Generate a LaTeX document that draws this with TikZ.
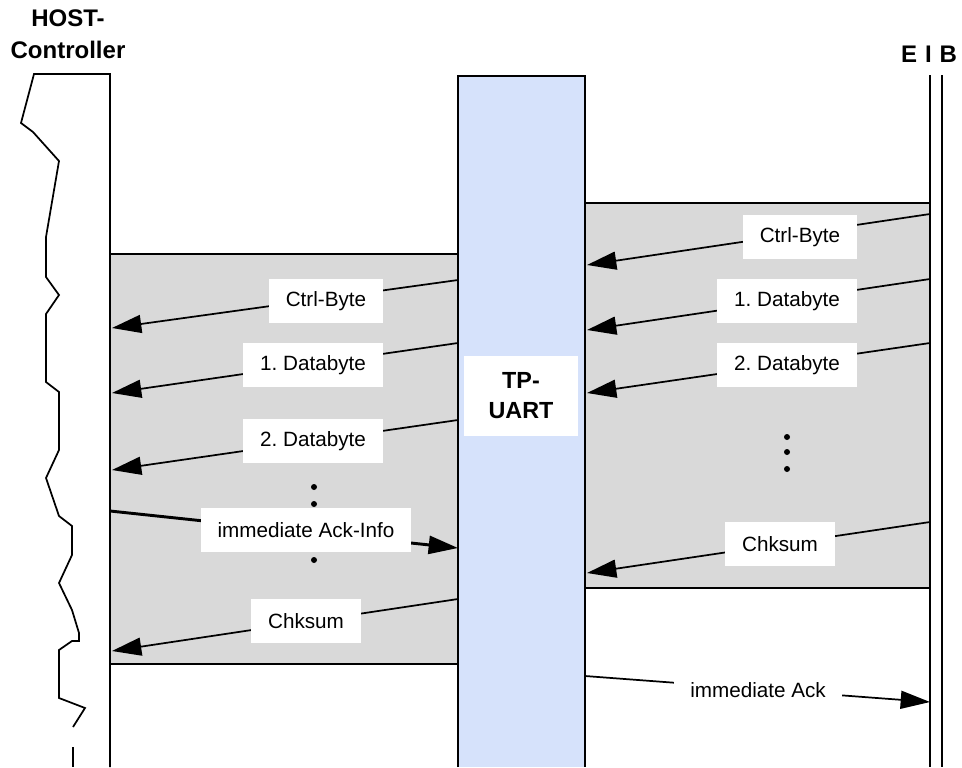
\documentclass[tikz,border=0pt]{standalone}
\usepackage{fontspec}
\setmainfont{Liberation Sans}
\usepackage{tikz}
\usetikzlibrary{arrows.meta}
\definecolor{boxgrey}{RGB}{217,217,217}
\definecolor{uartblue}{RGB}{214,226,251}
\frenchspacing
\tikzset{msg/.style={line width=1.3pt, -{Triangle[length=22pt, width=13.5pt]}},
  lbl/.style={fill=white, inner xsep=12.5pt, minimum height=33pt, font=\fontsize{15.5}{18}\selectfont},
  dot/.style={circle, fill, inner sep=0, minimum size=4.5pt}}

\begin{document}
\begin{tikzpicture}[x=0.75pt, y=-0.75pt, line width=1.3pt]
  \useasboundingbox (0, 0) rectangle (962, 767);

  \node[align=center, font=\fontsize{18}{24}\selectfont\bfseries] at (68, 34) (host) {HOST-\\Controller};
  \node[font=\fontsize{18}{24}\selectfont\bfseries] at (929, 54) (eib) {E\,\,I\,\,B};

  \draw[fill=boxgrey] (110, 254) rectangle (458, 664);
  \draw[fill=boxgrey] (585, 203) rectangle (930, 588);
  \fill[uartblue] (458, 76) rectangle (585, 767);
  \draw (458, 767) -- (458, 76) -- (585, 76) -- (585, 767);

  \draw (110, 767) -- (110, 74) -- (34, 74) -- (21, 123) -- (33, 132) -- (59, 161)
    -- (46, 237) -- (46, 277) -- (59, 295) -- (46, 314) -- (46, 382) -- (59, 392)
    -- (59, 450) -- (46, 478) -- (59, 516) -- (72, 526) -- (72, 555) -- (59, 583)
    -- (72, 610) -- (79, 633) -- (79, 641) -- (72, 641) -- (59, 650) -- (59, 698)
    -- (85, 708) -- (73, 727);
  \draw (73, 747) -- (73, 767);

  \draw (930, 75) -- (930, 767);
  \draw (942, 75) -- (942, 767);

  \node[lbl, minimum width=85pt, minimum height=60pt, align=center,
    font=\fontsize{17.5}{22.5}\selectfont\bfseries] at (521, 396) (uart) {TP-\\UART};

  \foreach \i/\ys/\ye/\t/\lx/\ly in {1/280/328/Ctrl-Byte/326/301,
      2/343/393/1. Databyte/313/365, 3/420/470/2. Databyte/313/441,
      4/599/651/Chksum/306/621} {
    \coordinate (ls\i) at (458, \ys);
    \coordinate (le\i) at (112, \ye);
    \draw[msg] (ls\i) -- (le\i);
    \node[lbl] at (\lx, \ly) (ll\i) {\t};
  }

  \foreach \i/\ys/\ye/\t/\lx/\ly in {1/214/265/Ctrl-Byte/800/237,
      2/279/330/1. Databyte/787/301, 3/343/393/2. Databyte/787/365,
      4/522/573/Chksum/780/544} {
    \coordinate (rs\i) at (930, \ys);
    \coordinate (re\i) at (587, \ye);
    \draw[msg] (rs\i) -- (re\i);
    \node[lbl] at (\lx, \ly) (rl\i) {\t};
  }

  \foreach \y in {487, 504, 560} {
    \node[dot] at (314, \y) {};
  }
  \foreach \y in {437, 452, 469} {
    \node[dot] at (787, \y) {};
  }

  \coordinate (ackfrom) at (110, 511);
  \coordinate (ackto) at (458, 548);
  \draw[msg, line width=2.2pt] (ackfrom) -- (ackto);
  \node[lbl] at (306, 530) (ackinfo) {immediate Ack-Info};

  \coordinate (busfrom) at (585, 676);
  \coordinate (busto) at (930, 702);
  \draw[msg] (busfrom) -- (busto);
  \node[lbl] at (758, 690) (ack) {immediate Ack};
\end{tikzpicture}
\end{document}
